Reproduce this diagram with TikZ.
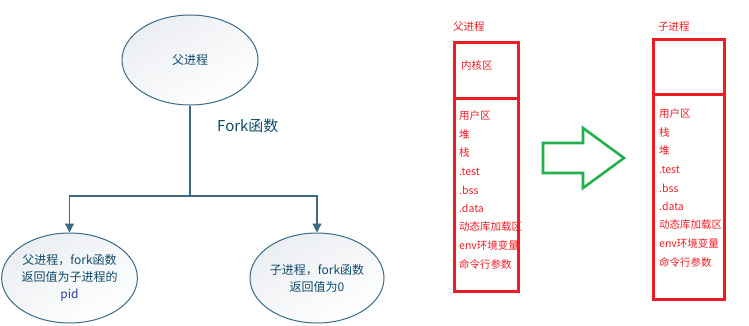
\documentclass[tikz,border=0pt]{standalone}
\usepackage{fontspec}
\setmainfont{Noto Sans CJK SC}
\usetikzlibrary{positioning,arrows.meta,shapes.geometric}
\definecolor{ink}{HTML}{0F4A6A}
\definecolor{edge}{HTML}{3A6A86}
\definecolor{pale}{HTML}{EBEEF2}
\definecolor{pidblue}{HTML}{2E3F9E}
\definecolor{paint}{HTML}{ED1C24}
\definecolor{leaf}{HTML}{22B14C}
\tikzset{proc/.style={draw=edge,line width=1pt,ellipse,top color=pale,bottom color=white,shading angle=30,minimum width=136pt,minimum height=90pt,inner sep=0pt,align=center,font=\fontsize{12}{17}\selectfont,text=ink},
branch/.style={draw=edge,line width=1.3pt,-{Triangle[length=9pt,width=9pt]}},
segbox/.style={draw=paint,line width=3pt,inner sep=0pt,anchor=north west},
item/.style={anchor=west,inner sep=0pt,text=paint,font=\fontsize{10.5}{12}\selectfont}}
\begin{document}
\begin{tikzpicture}[x=1pt,y=-1pt]
\useasboundingbox (0,0) rectangle (749,325);
% fork tree
\node[proc] (fa) at (190,60) {父进程};
\node[proc,minimum width=135pt] (pp) at (69.5,278) {父进程，fork函数\\返回值为子进程的\\{\color{pidblue}pid}};
\node[proc,minimum width=134pt] (cp) at (317,278) {子进程，fork函数\\返回值为0};
\coordinate (j) at (190,196);
\node[text=ink,font=\fontsize{15}{18}\selectfont,anchor=west,inner sep=0pt] (fk) at (217,126) {Fork函数};
\draw[edge,line width=1.3pt] (fa)--(j);
\draw[branch] (j)-|(pp); \draw[branch] (j)-|(cp);
% memory layout
\node[item] (pt) at (453,27) {父进程};
\node[segbox,minimum width=64pt,minimum height=56pt] (pk) at (453,41) {};
\node[segbox,minimum width=64pt,minimum height=193pt] (pu) at (453,97) {};
\node[item] (pkt) at (461,65) {内核区};
\foreach \t [count=\i] in {用户区,堆,栈,.test,.bss,.data,动态库加载区,env环境变量,命令行参数}
  \node[item] (p\i) at (459,{97.5+18.5*\i}) {\t};
\node[item] (ct) at (658,27) {子进程};
\node[segbox,minimum width=71pt,minimum height=55pt] (ck) at (652,38) {};
\node[segbox,minimum width=71pt,minimum height=205pt] (cu) at (652,93) {};
\foreach \t [count=\i] in {用户区,栈,堆,.test,.bss,.data,动态库加载区,env环境变量,命令行参数}
  \node[item] (c\i) at (659,{95.5+18.5*\i}) {\t};
% copy arrow
\draw[leaf,line width=2.6pt,line join=miter] (543,143)--(583,143)--(583,128)--(624,158)--(583,188)--(583,173)--(543,173)--cycle;
\end{tikzpicture}
\end{document}
